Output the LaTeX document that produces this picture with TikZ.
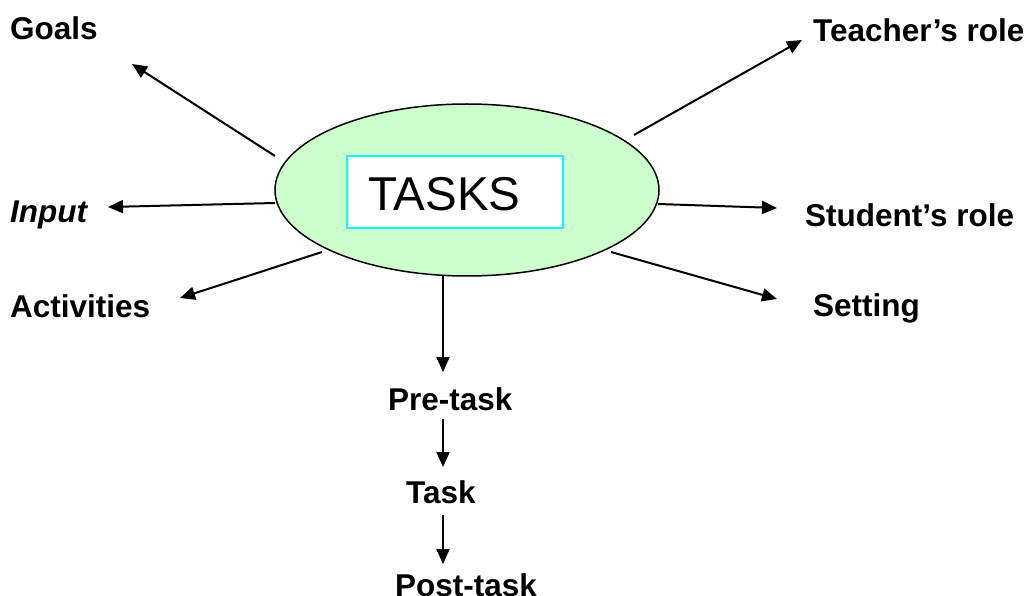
\documentclass[tikz,border=0pt]{standalone}
\usepackage{fontspec}
\setmainfont{Liberation Sans}
\usetikzlibrary{shapes.geometric,arrows.meta}
\definecolor{ellfill}{RGB}{204,255,204}
\definecolor{boxcyan}{RGB}{0,255,255}
\begin{document}
\begin{tikzpicture}[x=1pt,y=-1pt,
  lbl/.style={anchor=base west,inner sep=0pt,font=\fontsize{31.5}{37}\selectfont\bfseries},
  conn/.style={line width=2pt,-{Triangle[length=15pt,width=13pt]}}]
\useasboundingbox (0,0) rectangle (1029,596);
\node[ellipse,draw,line width=1.5pt,fill=ellfill,minimum width=384pt,minimum height=172pt,inner sep=0pt] (tasks) at (467,190) {};
\node[draw=boxcyan,line width=1.5pt,fill=white,minimum width=216pt,minimum height=72pt,inner sep=0pt] (box) at (455,192) {};
\node[anchor=base west,inner sep=0pt,font=\fontsize{47.5}{56}\selectfont] (title) at (368,211) {TASKS};
% labels
\node[lbl] (goals) at (10,40) {Goals};
\node[lbl,font=\fontsize{31.5}{37}\selectfont\bfseries\itshape] (input) at (10,223) {Input};
\node[lbl] (act) at (10,318) {Activities};
\node[lbl] (teach) at (813,42) {Teacher’s role};
\node[lbl] (stud) at (805,227) {Student’s role};
\node[lbl] (set) at (813,317) {Setting};
\node[lbl] (pre) at (388,410) {Pre-task};
\node[lbl] (task) at (406,503) {Task};
\node[lbl] (post) at (395,596) {Post-task};
% connector end points
\coordinate (sGoals) at (275,156);  \coordinate (eGoals) at (132,64);
\coordinate (sInput) at (275,203);  \coordinate (eInput) at (108,207);
\coordinate (sAct) at (322,252);    \coordinate (eAct) at (180,298);
\coordinate (sTeach) at (634,135);  \coordinate (eTeach) at (802,40);
\coordinate (sStud) at (658,204);   \coordinate (eStud) at (777,208);
\coordinate (sSet) at (611,252);    \coordinate (eSet) at (777,299);
\coordinate (sDown) at (443,276);   \coordinate (eDown) at (443,372);
\coordinate (sPre) at (443,419);    \coordinate (ePre) at (443,467);
\coordinate (sTask) at (443,515);   \coordinate (eTask) at (443,564);
\draw[conn] (sGoals) -- (eGoals);
\draw[conn] (sInput) -- (eInput);
\draw[conn] (sAct) -- (eAct);
\draw[conn] (sTeach) -- (eTeach);
\draw[conn] (sStud) -- (eStud);
\draw[conn] (sSet) -- (eSet);
\draw[conn] (sDown) -- (eDown);
\draw[conn] (sPre) -- (ePre);
\draw[conn] (sTask) -- (eTask);
\end{tikzpicture}
\end{document}
